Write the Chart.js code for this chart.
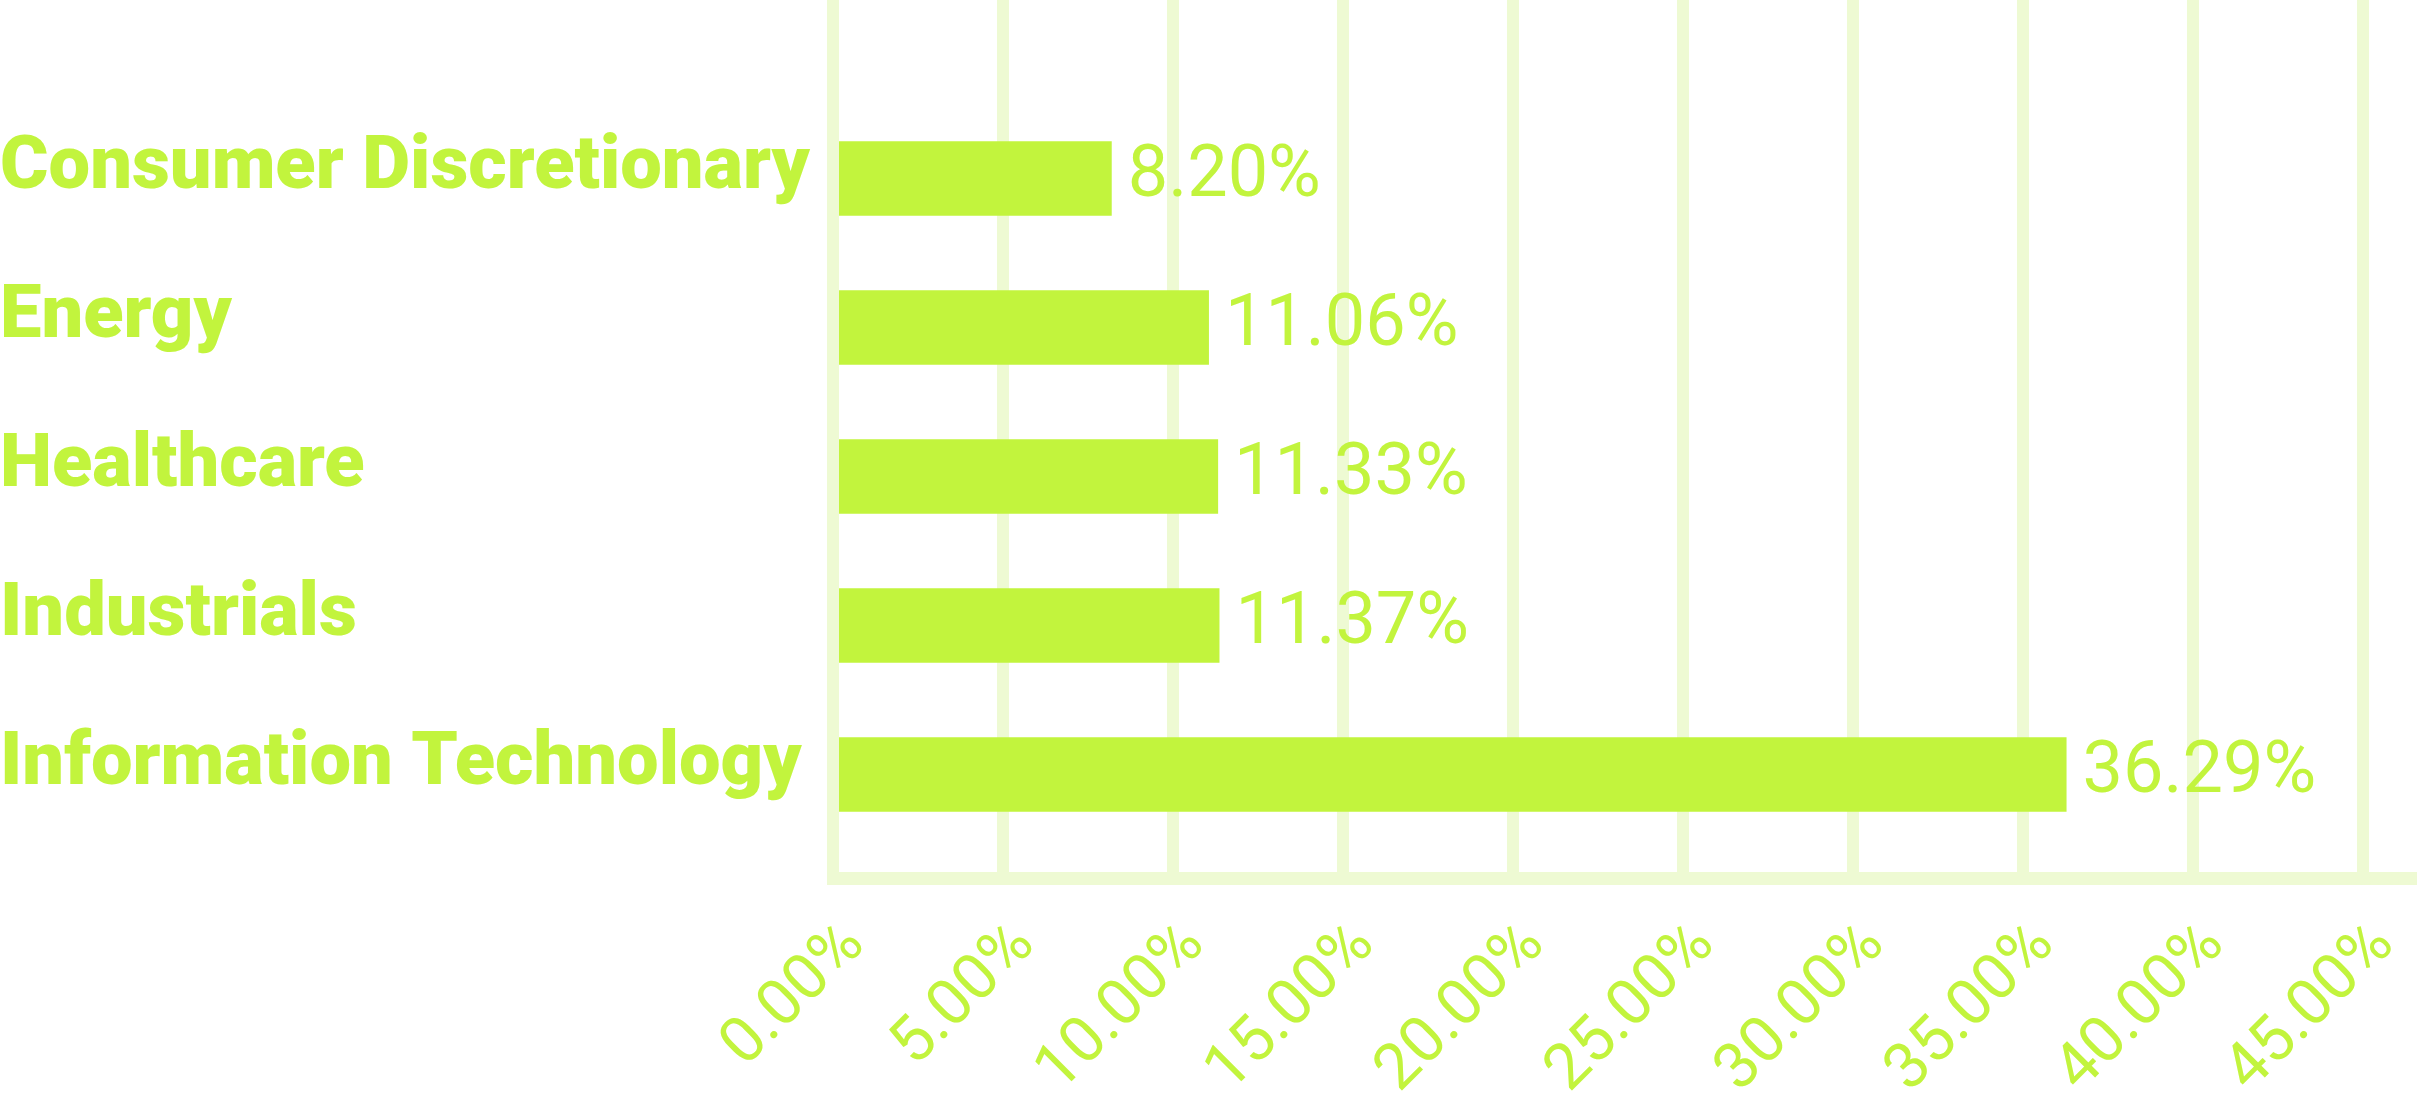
<!DOCTYPE html>
<html>
<head>
<meta charset="utf-8">
<script src="https://cdn.jsdelivr.net/npm/chart.js@4"></script>
<style>
  html, body { margin: 0; padding: 0; background: #fff; }
  #wrap { width: 2417px; height: 1103px; }
</style>
</head>
<body>
<div id="wrap"><canvas id="myChart"></canvas></div>
<script>
const categories = [
  "Consumer Discretionary",
  "Energy",
  "Healthcare",
  "Industrials",
  "Information Technology",
];
const weights = [8.2, 11.06, 11.33, 11.37, 36.29];
const xTicks = [0, 5, 10, 15, 20, 25, 30, 35, 40, 45];

const green = "#c2f43d";
const pale = "#eefad3";

// prints the weight to the right of each bar
const valueLabels = {
  id: "valueLabels",
  afterDatasetsDraw(chart) {
    const ctx = chart.ctx;
    const meta = chart.getDatasetMeta(0);
    ctx.save();
    ctx.fillStyle = green;
    ctx.font = "400 72px Roboto";
    ctx.textAlign = "left";
    ctx.textBaseline = "middle";
    meta.data.forEach((bar, i) => {
      ctx.fillText(weights[i].toFixed(2) + "%", bar.x + 16, bar.y);
    });
    ctx.restore();
  },
};

const ctx = document.getElementById("myChart");
const myChart = new Chart(ctx, {
  type: "bar",
  data: {
    datasets: [
      {
        data: weights.map((w, i) => ({ x: w, y: i })),
        backgroundColor: green,
        barPercentage: 0.5,
        categoryPercentage: 1,
      },
    ],
  },
  options: {
    indexAxis: "y",
    responsive: true,
    maintainAspectRatio: false,
    animation: false,
    layout: { padding: 0 },
    plugins: {
      legend: { display: false },
      tooltip: { enabled: false },
    },
    scales: {
      x: {
        type: "linear",
        min: 0,
        max: 46.6,
        afterBuildTicks: (scale) => {
          scale.ticks = xTicks.map((v) => ({ value: v }));
        },
        afterFit: (scale) => {
          scale.height = 225;
          scale.paddingRight = 0;
        },
        grid: { color: pale, lineWidth: 12, drawTicks: false },
        border: { color: pale, width: 13 },
        ticks: {
          color: green,
          font: { family: "Roboto", size: 64 },
          minRotation: 45,
          maxRotation: 45,
          padding: 30,
          labelOffset: 22,
          callback: (v) => v.toFixed(2) + "%",
        },
      },
      y: {
        type: "linear",
        reverse: true,
        offset: false,
        min: -1.198,
        max: 4.695,
        afterBuildTicks: (scale) => {
          scale.ticks = categories.map((c, i) => ({ value: i }));
        },
        afterFit: (scale) => {
          scale.width = 833;
          scale.paddingTop = 0;
          scale.paddingBottom = 0;
        },
        grid: { display: false },
        border: { display: false },
        ticks: {
          color: green,
          crossAlign: "far",
          autoSkip: false,
          labelOffset: -9,
          font: { family: "Roboto", size: 74, weight: "900" },
          callback: (v) => categories[v] ?? "",
        },
      },
    },
  },
  plugins: [valueLabels],
});
</script>
</body>
</html>
